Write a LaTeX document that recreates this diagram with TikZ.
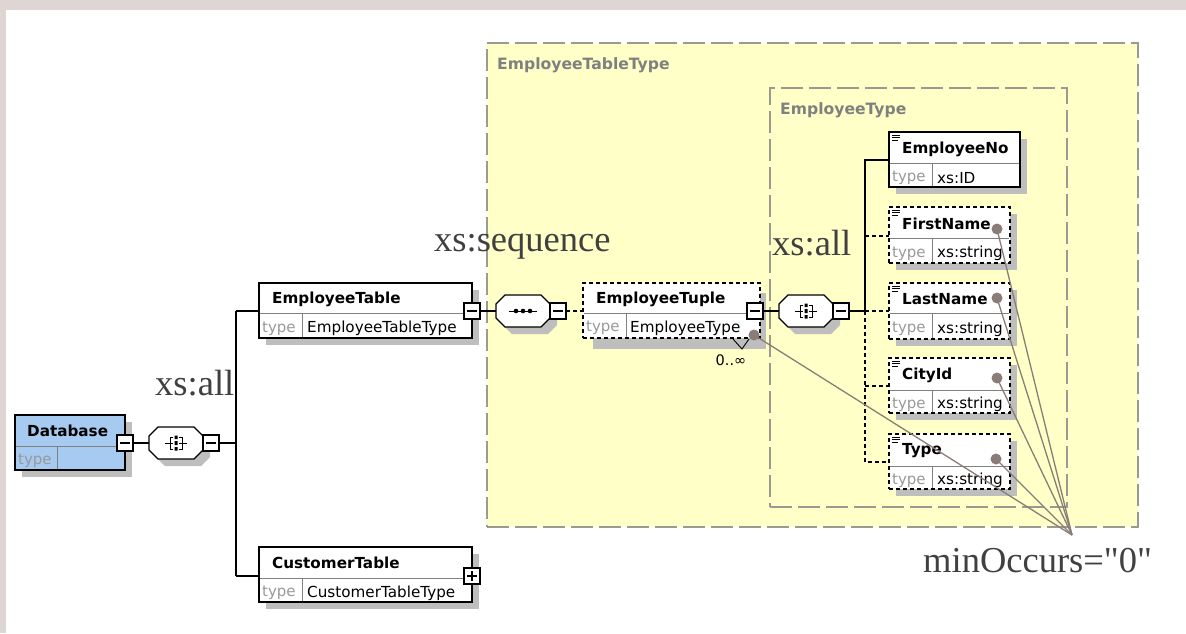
\documentclass[tikz,border=0pt]{standalone}
\usepackage{fontspec}
\newfontfamily\bigfont{Liberation Serif}
\newfontfamily\boxfont{DejaVu Sans}
\usetikzlibrary{calc}
\definecolor{bandc}{HTML}{DDD6D3}
\definecolor{yellowc}{HTML}{FFFFC8}
\definecolor{dashc}{HTML}{9A9A90}
\definecolor{shadc}{HTML}{BEBEBE}
\definecolor{bluec}{HTML}{A6CAF0}
\definecolor{notec}{HTML}{8A7D78}
\definecolor{labc}{HTML}{404040}
\definecolor{titlec}{HTML}{808080}
\tikzset{
  x=1pt,y=-1pt,
  conn/.style={line width=1.2pt,black},
  connd/.style={line width=1.2pt,black,dash pattern=on 4pt off 3pt},
  shadowbox/.style={fill=shadc,draw=none,inner sep=0pt,outer sep=0pt},
  elembox/.style={draw=black,line width=1.3pt,fill=white,inner sep=0pt,outer sep=0pt},
  optbox/.style={draw=black,line width=1.3pt,dash pattern=on 4pt off 3pt,fill=white,inner sep=0pt,outer sep=0pt},
  bluebox/.style={elembox,fill=bluec},
  btn/.style={draw=black,line width=1.3pt,fill=white,minimum width=16pt,minimum height=16pt,inner sep=0pt,outer sep=0pt},
  comp/.style={minimum width=54pt,minimum height=32pt,inner sep=0pt,outer sep=0pt},
  region/.style={draw=dashc,line width=1.5pt,dash pattern=on 22pt off 6pt,inner sep=0pt,outer sep=0pt},
  regiont/.style={font=\boxfont\bfseries\fontsize{15.6}{15}\selectfont,text=titlec,anchor=west,inner sep=0pt},
  titlet/.style={font=\boxfont\bfseries\fontsize{15.2}{15}\selectfont,anchor=west,inner sep=0pt},
  typet/.style={font=\boxfont\fontsize{15}{15}\selectfont,text=gray!80,anchor=west,inner sep=0pt},
  valt/.style={font=\boxfont\fontsize{15.2}{15}\selectfont,anchor=west,inner sep=0pt},
  big/.style={font=\bigfont\fontsize{36.5}{36}\selectfont,text=labc,inner sep=0pt,anchor=base west},
  notedot/.style={circle,fill=notec,minimum size=11pt,inner sep=0pt,outer sep=0pt},
  noteline/.style={draw=notec,line width=1.3pt},
}
\newcommand{\elemx}[9]{%
  \node[shadowbox,minimum width={(#4-#2)*1pt},minimum height={(#5-#3)*1pt},anchor=north west] at (#2+7,#3+7) {};
  \node[#9,minimum width={(#4-#2)*1pt},minimum height={(#5-#3)*1pt},anchor=north west] (#1) at (#2,#3) {};
  \draw[gray,line width=1pt] (#2+1,#6) -- (#4-1,#6);
  \draw[gray,line width=1pt] (#7,#6) -- (#7,#5-1);
  \node[typet] at (#2+3,{(#6+#5)/2+3}) {type};
  \node[valt] at (#7+5,{(#6+#5)/2+3}) {#8};
}
\newcommand{\leaficon}[2]{%
  \draw[black,line width=0.9pt] (#1+3,#2+3) -- (#1+11,#2+3) (#1+3,#2+5.5) -- (#1+11,#2+5.5) (#1+3,#2+8) -- (#1+9,#2+8);
}
% octagon outline around a compositor centre
\newcommand{\octa}[3]{%
  \path[#3] (#1-27,#2-7) -- (#1-18,#2-16) -- (#1+18,#2-16) -- (#1+27,#2-7) -- (#1+27,#2+7) -- (#1+18,#2+16) -- (#1-18,#2+16) -- (#1-27,#2+7) -- cycle;
}
\newcommand{\allsym}[2]{%
  \draw[black,line width=1pt] (#1-11,#2) -- (#1-3,#2) (#1+3,#2) -- (#1+11,#2)
    (#1-3,#2-6) -- (#1-6,#2-6) -- (#1-6,#2+6) -- (#1-3,#2+6)
    (#1+3,#2-6) -- (#1+6,#2-6) -- (#1+6,#2+6) -- (#1+3,#2+6);
  \fill[black] (#1-1.5,#2-7.5) rectangle (#1+1.5,#2-4) (#1-1.5,#2-2) rectangle (#1+1.5,#2+2) (#1-1.5,#2+4) rectangle (#1+1.5,#2+7.5);
}
\newcommand{\seqsym}[2]{%
  \draw[black,line width=1pt] (#1-14,#2) -- (#1+14,#2);
  \fill[black] (#1-7,#2) circle (2.3) (#1,#2) circle (2.3) (#1+7,#2) circle (2.3);
}
\newcommand{\minussym}[1]{\draw[black,line width=1.1pt] ($(#1.west)+(3,0)$) -- ($(#1.east)+(-3,0)$);}
\newcommand{\plussym}[1]{\draw[black,line width=1.1pt] ($(#1.west)+(3,0)$) -- ($(#1.east)+(-3,0)$) ($(#1.north)+(0,3)$) -- ($(#1.south)+(0,-3)$);}
\begin{document}
\begin{tikzpicture}
\useasboundingbox (0,0) rectangle (1186,633);
\fill[white] (0,0) rectangle (1186,633);
\fill[bandc] (0,0) rectangle (1186,10);
\fill[bandc] (0,0) rectangle (6,633);
% regions
\node[region,fill=yellowc,minimum width=651pt,minimum height=484pt,anchor=north west] (outerreg) at (487,43) {};
\node[region,minimum width=297pt,minimum height=419pt,anchor=north west] (innerreg) at (770,88) {};
\node[regiont] (outert) at (497,65) {EmployeeTableType};
\node[regiont] (innert) at (780,110) {EmployeeType};
% trunk coordinates
\coordinate (trunkA) at (236,443);
\coordinate (trunkAt) at (236,311);
\coordinate (trunkAb) at (236,576);
\coordinate (trunkB) at (865,311);
\coordinate (trunkBt) at (865,160);
\coordinate (trunkBb) at (865,462);
\coordinate (trF) at (865,236);
\coordinate (trC) at (865,386);
% Database
\elemx{db}{15}{415}{125}{470}{446}{57}{}{bluebox}
\node[titlet] (dbt) at (27,431) {Database};
% EmployeeTable
\elemx{et}{259}{283}{472}{338}{313}{302}{EmployeeTableType}{elembox}
\node[titlet] (ett) at (272,299) {EmployeeTable};
% CustomerTable
\elemx{ct}{259}{547}{472}{602}{578}{302}{CustomerTableType}{elembox}
\node[titlet] (ctt) at (272,563) {CustomerTable};
% EmployeeTuple
\node[shadowbox,minimum width=173pt,minimum height=56pt,anchor=north west] (tups) at (593,293) {};
\node[optbox,minimum width=177pt,minimum height=55pt,anchor=north west] (tup) at (583,283) {};
\draw[gray,line width=1pt] (584,313) -- (759,313) (626,313) -- (626,337);
\node[typet] at (586,328) {type};
\node[valt] at (630,328) {EmployeeType};
\node[titlet] (tupt) at (596,299) {EmployeeTuple};
\draw[black,line width=0.9pt] (733,339) -- (742,349) -- (749,339);
\node[font=\boxfont\fontsize{14.5}{14}\selectfont,inner sep=0pt] (occ) at (731,360) {0..∞};
% leaves
\elemx{eno}{889}{132}{1020}{187}{163}{932}{xs:ID}{elembox}
\node[titlet] (enot) at (902,149) {EmployeeNo};
\leaficon{889}{132}
\elemx{fn}{889}{207}{1010}{263}{238}{932}{xs:string}{optbox}
\node[titlet] (fnt) at (902,224) {FirstName};
\leaficon{889}{207}
\elemx{ln}{889}{283}{1010}{339}{313}{932}{xs:string}{optbox}
\node[titlet] (lnt) at (902,299) {LastName};
\leaficon{889}{283}
\elemx{ci}{889}{358}{1010}{413}{390}{932}{xs:string}{optbox}
\node[titlet] (cit) at (902,375) {CityId};
\leaficon{889}{358}
\elemx{ty}{889}{434}{1010}{489}{466}{932}{xs:string}{optbox}
\node[titlet] (tyt) at (902,451) {Type};
\leaficon{889}{434}
% compositors
\octa{183}{450}{fill=shadc}
\octa{530}{318}{fill=shadc}
\octa{813}{318}{fill=shadc}
\octa{176}{443}{draw=black,line width=1.2pt,fill=white}
\octa{523}{311}{draw=black,line width=1.2pt,fill=white}
\octa{806}{311}{draw=black,line width=1.2pt,fill=white}
\node[comp] (ca) at (176,443) {};
\node[comp] (cb) at (523,311) {};
\node[comp] (cc) at (806,311) {};
\allsym{176}{443}
\seqsym{523}{311}
\allsym{806}{311}
% buttons
\node[btn] (bdb) at (125,443) {};
\node[btn] (bca) at (211,443) {};
\node[btn] (bet) at (472,311) {};
\node[btn] (bct) at (472,576) {};
\node[btn] (bcb) at (558,311) {};
\node[btn] (btu) at (755,311) {};
\node[btn] (bcc) at (841,311) {};
\minussym{bdb}\minussym{bca}\minussym{bet}\plussym{bct}\minussym{bcb}\minussym{btu}\minussym{bcc}
% connectors
\draw[conn] (bdb.east) -- (ca.west);
\draw[conn] (bca.east) -- (trunkA);
\draw[conn] (trunkAt) -- (trunkAb);
\draw[conn] (trunkAt) -- (trunkAt -| et.west);
\draw[conn] (trunkAb) -- (trunkAb -| ct.west);
\draw[conn] (bet.east) -- (cb.west);
\draw[connd] (bcb.east) -- (tup.west |- bcb.east);
\draw[conn] (btu.east) -- (cc.west);
\draw[conn] (bcc.east) -- (trunkB);
\draw[conn] (trunkB) -- (trunkBt) -- (trunkBt -| eno.west);
\draw[connd] (trunkB) -- (trunkBb) -- (trunkBb -| ty.west);
\draw[connd] (trF) -- (trF -| fn.west);
\draw[connd] (trunkB) -- (trunkB -| ln.west);
\draw[connd] (trC) -- (trC -| ci.west);
% big labels
\node[big] (l1) at (155,395) {xs:all};
\node[big] (l2) at (434,251) {xs:sequence};
\node[big] (l3) at (772,255) {xs:all};
\node[big] (l4) at (923,572) {minOccurs="0"};
% notes
\coordinate (notetip) at (1072,535);
\node[notedot] (d1) at (997,229) {};
\node[notedot] (d2) at (997,298) {};
\node[notedot] (d3) at (997,378) {};
\node[notedot] (d4) at (996,459) {};
\node[notedot] (d5) at (754,335) {};
\foreach \d in {d1,d2,d3,d4,d5} \draw[noteline] (\d.center) -- (notetip);
\end{tikzpicture}
\end{document}
